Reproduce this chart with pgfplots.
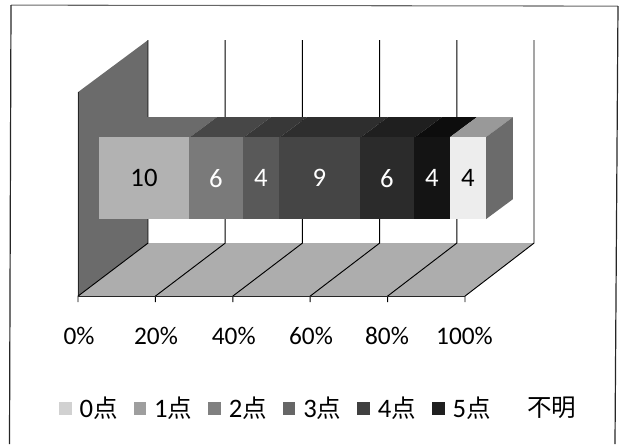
\documentclass[border=0pt]{standalone}
\usepackage{fontspec}
\setmainfont{Carlito}
\newfontfamily\cjk[Scale=0.92]{Noto Sans CJK JP}
\usepackage{pgfplots}
\pgfplotsset{compat=1.18}

% one unit of the bar = 9 px, 1 px = 0.75pt
\pgfplotsset{
  lg/.style={legend image code/.code={\fill[#1] (0pt,-4.9pt) rectangle (9.5pt,4.9pt);}},
  lab/.style={every node near coord/.append style={text=#1}},
}

\begin{document}
\begin{tikzpicture}
% page, frame and the 3D walls, in reference pixels
\begin{scope}[x=0.75pt,y=-0.75pt,yshift=333pt]
  \path (0,0) rectangle (620,444);
  % scanned frame, slightly tilted, runs off the bottom
  \draw[black!60,line width=0.8pt] (11,5) -- (618,6);
  \draw[black!85,line width=0.9pt] (11,5) -- (9.5,444);
  \draw[black!85,line width=0.9pt] (618,6) -- (615,444);
  % left wall
  \fill[black!58] (78,92) -- (148,40) -- (148,243) -- (78,296) -- cycle;
  \draw[black!85,line width=0.6pt] (78,92) -- (78,296);
  % floor
  \fill[black!32] (78,296) -- (148,243) -- (534,243) -- (465,296) -- cycle;
  % back grid lines and floor lines
  \foreach \i in {0,...,5} {
    \draw[black,line width=0.7pt] ({148+\i*77.2},40) -- ({148+\i*77.2},243)
       -- ({78+\i*77.4},296) -- ({78+\i*77.4},302);
  }
  \draw[black!85,line width=0.7pt] (78,296) -- (465,296);
  % bar tops and side
  \fill[black!58] (99,137) -- (190,137) -- (217,117) -- (126,117) -- cycle;
  \fill[black!72] (190,137) -- (244,137) -- (271,117) -- (217,117) -- cycle;
  \fill[black!78] (244,137) -- (280,137) -- (307,117) -- (271,117) -- cycle;
  \fill[black!82] (280,137) -- (361,137) -- (388,117) -- (307,117) -- cycle;
  \fill[black!88] (361,137) -- (415,137) -- (442,117) -- (388,117) -- cycle;
  \fill[black!95] (415,137) -- (450,137) -- (477,117) -- (442,117) -- cycle;
  \fill[black!40] (450,137) -- (486,137) -- (513,117) -- (477,117) -- cycle;
  \fill[black!58] (486,137) -- (513,117) -- (513,199) -- (486,219) -- cycle;
\end{scope}
\begin{axis}[
    at={(0pt,0pt)}, anchor=south west,
    scale only axis,
    width=465pt, height=333pt,
    xbar stacked,
    bar width=61.5pt,
    xmin=-11, xmax=57.889,
    ymin=0, ymax=444,
    axis line style={draw=none},
    major tick length=0pt,
    ytick=\empty,
    xtick={-2.22,6.33,14.97,23.56,32,40.61},
    xticklabels={0\%,20\%,40\%,60\%,80\%,100\%},
    x tick label style={font=\fontsize{19}{21}\selectfont, anchor=center, yshift=81pt},
    /pgf/number format/assume math mode=true,
    clip=false,
    point meta=explicit,
    nodes near coords,
    every node near coord/.append style={font=\fontsize{20}{22}\selectfont, anchor=center},
    legend columns=7,
    legend style={at={(41pt,27pt)}, anchor=west, draw=none, fill=none,
                  font=\fontsize{20}{22}\selectfont,
                  /tikz/every odd column/.append style={column sep=4pt},
                  /tikz/every even column/.append style={column sep=9.9pt}},
    legend cell align=left,
]
\addplot[draw=none, fill=black!30, lab={black}, lg={black!18}] coordinates {(10,266) [10]};
\addplot[draw=none, fill=black!52, lab={white}, lg={black!38}] coordinates {(6,266) [6]};
\addplot[draw=none, fill=black!65, lab={white}, lg={black!50}] coordinates {(4,266) [4]};
\addplot[draw=none, fill=black!73, lab={white}, lg={black!60}] coordinates {(9,266) [9]};
\addplot[draw=none, fill=black!83, lab={white}, lg={black!75}] coordinates {(6,266) [6]};
\addplot[draw=none, fill=black!92, lab={white}, lg={black!88}] coordinates {(4,266) [4]};
\addplot[draw=none, fill=black!7, lab={black}, lg={white}] coordinates {(4,266) [4]};
\legend{0{\cjk 点},1{\cjk 点},2{\cjk 点},3{\cjk 点},4{\cjk 点},5{\cjk 点},{\cjk 不明}}
\end{axis}
\end{tikzpicture}
\end{document}
